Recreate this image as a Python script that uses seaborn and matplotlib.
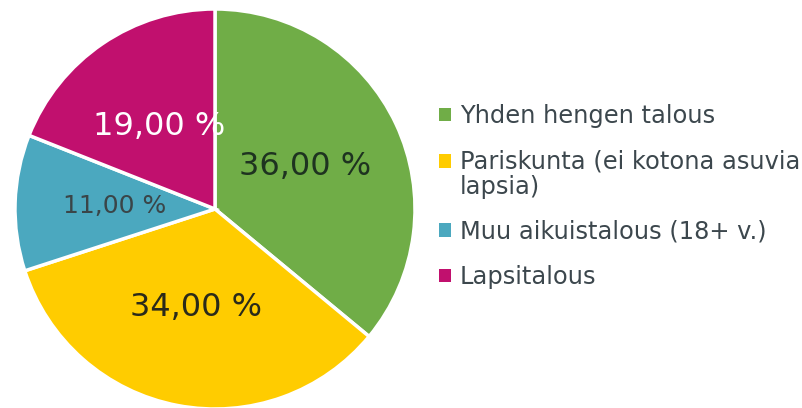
import matplotlib
matplotlib.use("Agg")
import matplotlib.pyplot as plt
from matplotlib.patches import Patch, Rectangle
from matplotlib.legend_handler import HandlerPatch
import seaborn as sns

categories = ["Yhden hengen talous", "Pariskunta (ei kotona asuvia\nlapsia)",
              "Muu aikuistalous (18+ v.)", "Lapsitalous"]
values = [36.0, 34.0, 11.0, 19.0]
colors = ["#70AD47", "#FFCC00", "#4BA8BF", "#C1106E"]
label_colors = ["#1E3320", "#2A2A1A", "#3A4548", "#FFFFFF"]
label_sizes = [23, 23, 18, 23]

sns.set_theme(style="white")
plt.rcParams['font.family'] = ['DejaVu Sans']

fig = plt.figure(figsize=(8.02, 4.08), dpi=100)
ax = fig.add_axes([15/802, -1/408, 400/802, 400/408])

def fmt(p):
    return ("%.2f" % p).replace(".", ",") + " %"

wedges, texts, autotexts = ax.pie(values, colors=colors, startangle=90, counterclock=False,
                                  autopct=fmt, pctdistance=0.5, radius=1,
                                  wedgeprops=dict(edgecolor="white", linewidth=2.5))
for t, c, s in zip(autotexts, label_colors, label_sizes):
    t.set_color(c)
    t.set_fontsize(s)
ax.set_xlim(-1.0, 1.0)
ax.set_ylim(-1.0, 1.0)
ax.set_aspect("equal")
ax.axis("off")


class TopAlignedHandler(HandlerPatch):
    def __init__(self, shift=0.0, **kw):
        super().__init__(**kw)
        self.shift = shift

    def create_artists(self, legend, orig_handle, xdescent, ydescent, width, height,
                       fontsize, trans):
        p = Rectangle((-xdescent, -ydescent + self.shift), width, height,
                      facecolor=orig_handle.get_facecolor(), edgecolor="none",
                      transform=trans)
        return [p]


handles = [Patch(facecolor=c, edgecolor="none") for c in colors]
handler_map = {handles[1]: TopAlignedHandler(shift=10)}
leg = fig.legend(handles, categories, loc="upper left", bbox_to_anchor=(439/802, 1 - 104/408),
                 frameon=False, fontsize=17.4, labelcolor="#3C474D",
                 handlelength=0.5, handleheight=0.5, handletextpad=0.37,
                 labelspacing=0.87, borderaxespad=0, borderpad=0,
                 handler_map=handler_map)
for t in leg.get_texts():
    t.set_linespacing(1.1)

fig.savefig("out.png", dpi=100)
